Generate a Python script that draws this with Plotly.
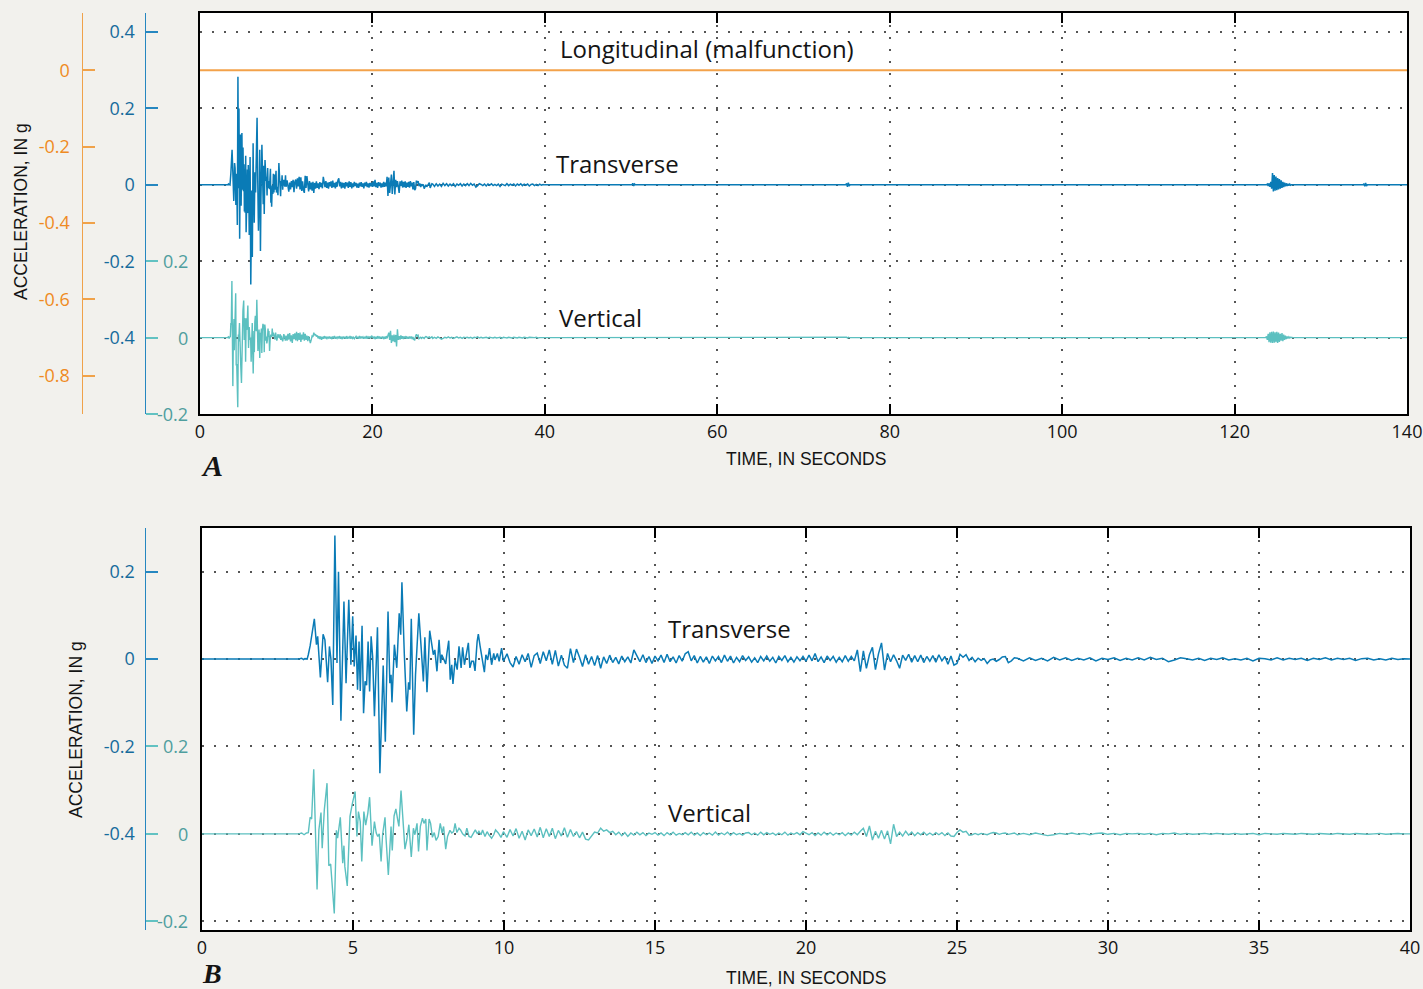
import numpy as np
import plotly.graph_objects as go

# ------------------------------------------------------------------
# Strong-motion record: time in seconds, acceleration in g
# ------------------------------------------------------------------
# Strong-motion picks, transverse component (0-10 s)
TRANS_T = [0.00, 3.20, 3.30, 3.36, 3.41, 3.48, 3.52, 3.58, 3.72, 3.79,
           3.83, 3.92, 4.01, 4.07, 4.16, 4.22, 4.27, 4.33, 4.40, 4.47,
           4.52, 4.60, 4.70, 4.77, 4.86, 4.93, 4.99, 5.04, 5.10, 5.15,
           5.20, 5.24, 5.30, 5.35, 5.40, 5.45, 5.50, 5.55, 5.60, 5.65,
           5.71, 5.81, 5.89, 6.00, 6.07, 6.16, 6.22, 6.26, 6.29, 6.37,
           6.45, 6.53, 6.58, 6.62, 6.70, 6.78, 6.84, 6.88, 6.93, 7.01,
           7.07, 7.12, 7.18, 7.25, 7.33, 7.38, 7.45, 7.54, 7.61, 7.66,
           7.71, 7.78, 7.85, 7.90, 7.94, 8.01, 8.07, 8.11, 8.17, 8.22,
           8.27, 8.31, 8.38, 8.45, 8.51, 8.58, 8.63, 8.69, 8.74, 8.82,
           8.87, 8.93, 8.99, 9.04, 9.11, 9.15, 9.21, 9.28, 9.35, 9.40,
           9.46, 9.52, 9.59, 9.66, 9.70, 9.78, 9.84, 9.92, 9.98]
TRANS_V = [0.000, 0.000, 0.002, -0.001, 0.001, 0.000, 0.010, 0.030, 0.092, 0.033,
           0.052, -0.042, 0.057, 0.044, -0.053, 0.029, 0.000, -0.105, 0.283, -0.009,
           0.200, -0.141, 0.132, -0.055, 0.136, -0.013, 0.098, -0.017, 0.054, -0.070,
           0.040, -0.073, 0.076, -0.124, -0.051, -0.060, 0.040, -0.074, 0.052, 0.006,
           -0.131, 0.073, -0.261, -0.015, -0.189, 0.109, -0.055, -0.036, -0.099, 0.033,
           -0.020, 0.105, 0.056, 0.176, 0.010, -0.120, -0.053, -0.070, 0.092, -0.173,
           -0.036, 0.025, 0.105, 0.033, -0.051, 0.050, -0.076, 0.065, 0.025, 0.010,
           0.021, -0.028, 0.044, -0.009, 0.010, -0.002, -0.011, 0.013, 0.042, -0.047,
           -0.013, -0.057, -0.002, -0.024, 0.029, -0.020, 0.027, -0.013, 0.010, 0.037,
           -0.020, -0.005, -0.005, -0.027, 0.040, 0.057, 0.029, -0.002, -0.030, 0.010,
           -0.002, 0.025, -0.013, 0.013, -0.002, 0.013, -0.005, 0.025, -0.005]

# Strong-motion picks, vertical component (0-10 s)
VERT_T = [0.00, 3.20, 3.30, 3.38, 3.46, 3.52, 3.58, 3.63, 3.70, 3.81,
          3.87, 3.94, 3.98, 4.05, 4.14, 4.20, 4.26, 4.38, 4.45, 4.49,
          4.58, 4.66, 4.70, 4.73, 4.81, 4.90, 4.98, 5.07, 5.13, 5.18,
          5.24, 5.29, 5.36, 5.42, 5.49, 5.55, 5.63, 5.71, 5.77, 5.82,
          5.87, 5.93, 5.98, 6.06, 6.09, 6.17, 6.26, 6.30, 6.36, 6.42,
          6.48, 6.52, 6.59, 6.64, 6.72, 6.78, 6.85, 6.93, 7.00, 7.05,
          7.12, 7.17, 7.23, 7.30, 7.35, 7.41, 7.45, 7.52, 7.57, 7.63,
          7.69, 7.75, 7.82, 7.89, 7.95, 8.00, 8.07, 8.13, 8.21, 8.27,
          8.33, 8.38, 8.44, 8.51, 8.56, 8.63, 8.71, 8.77, 8.84, 8.91,
          8.98, 9.05, 9.12, 9.17, 9.24, 9.29, 9.37, 9.44, 9.50, 9.59,
          9.66, 9.72, 9.81, 9.90, 9.98]
VERT_V = [0.000, 0.000, 0.002, -0.002, 0.002, 0.003, 0.038, 0.034, 0.148, -0.127,
          0.009, 0.049, -0.033, 0.055, 0.116, -0.073, -0.069, -0.182, 0.008, -0.010,
          0.038, -0.067, -0.027, -0.075, -0.119, 0.040, 0.070, 0.097, -0.006, 0.051,
          0.028, -0.063, 0.051, 0.020, 0.047, 0.084, -0.027, 0.028, 0.002, -0.006,
          0.000, -0.063, -0.002, 0.038, -0.006, -0.094, 0.017, -0.038, 0.041, 0.057,
          0.032, 0.017, 0.099, 0.036, -0.035, -0.014, 0.021, -0.053, 0.013, -0.002,
          0.024, -0.040, 0.017, 0.036, 0.024, 0.034, -0.038, 0.034, 0.024, -0.008,
          0.003, -0.015, -0.006, 0.024, 0.002, 0.017, -0.035, -0.006, 0.008, 0.002,
          0.005, 0.024, 0.003, 0.013, 0.009, 0.000, -0.005, 0.013, -0.006, -0.008,
          0.000, 0.009, 0.000, 0.006, -0.002, 0.009, -0.006, 0.005, -0.002, -0.010,
          -0.002, 0.009, 0.002, -0.008, 0.005]

# Coda sampled every 0.1 s from 10.1 s to 27.0 s
CODA_FINE_START, CODA_FINE_DT = 10.1, 0.1
CODA_TRANS_FINE = [
    0.012, -0.008, -0.018, 0.006, -0.012, 0.010, -0.006, 0.013, -0.019, 0.008,
    0.014, -0.010, 0.017, -0.004, 0.021, -0.012, 0.020, -0.016, 0.009, -0.014,
    -0.021, 0.024, -0.008, 0.023, 0.004, -0.017, 0.010, -0.012, 0.006, -0.015,
    0.008, -0.021, 0.005, -0.010, 0.009, -0.008, 0.004, -0.011, 0.007, -0.006,
    0.005, -0.009, 0.021, 0.008, -0.006, 0.010, -0.008, 0.006, -0.010, 0.007,
    -0.004, 0.009, -0.008, 0.011, -0.006, 0.005, -0.009, 0.008, -0.005, 0.012,
    0.017, -0.004, 0.008, -0.009, 0.006, -0.007, 0.005, -0.010, 0.007, -0.004,
    0.006, -0.008, 0.009, -0.005, 0.007, -0.009, 0.004, -0.006, 0.008, -0.003,
    0.005, -0.007, 0.003, -0.008, 0.006, -0.004, 0.007, -0.005, 0.004, -0.009,
    0.006, -0.003, 0.008, -0.006, 0.004, -0.007, 0.005, -0.004, 0.006, -0.005,
    0.009, -0.004, 0.013, -0.006, 0.005, -0.008, 0.007, -0.003, 0.006, -0.007,
    0.004, -0.006, 0.008, -0.005, 0.006, -0.004, 0.021, -0.029, 0.019, -0.021,
    0.010, 0.027, -0.024, 0.012, 0.037, -0.025, 0.013, -0.006, 0.010, -0.004,
    -0.021, 0.009, -0.003, 0.011, -0.007, 0.008, -0.006, 0.009, -0.008, 0.006,
    -0.005, 0.008, -0.007, 0.010, -0.004, 0.006, -0.012, 0.007, -0.014, -0.010,
    0.011, 0.004, 0.010, -0.003, 0.004, -0.006, 0.002, -0.003, 0.001, -0.010,
    -0.002, 0.000, -0.005, -0.001, 0.005, 0.006, -0.008, -0.004, 0.003, 0.002]
CODA_VERT_FINE = [
    -0.008, 0.010, -0.005, 0.012, -0.010, 0.006, -0.014, 0.009, -0.004, 0.011,
    -0.007, 0.015, -0.009, 0.012, -0.006, 0.013, -0.011, 0.008, -0.005, 0.014,
    -0.008, 0.010, -0.006, 0.005, -0.009, 0.004, -0.012, -0.014, -0.006, 0.004,
    0.002, 0.013, 0.006, 0.009, 0.003, 0.006, -0.002, 0.004, -0.004, 0.003,
    -0.006, 0.002, -0.003, 0.004, -0.002, 0.003, -0.004, 0.002, -0.001, 0.003,
    -0.003, 0.002, -0.004, 0.003, -0.002, 0.004, -0.003, 0.001, -0.002, 0.003,
    -0.002, 0.004, -0.003, 0.002, -0.004, 0.003, -0.002, 0.002, -0.003, 0.004,
    -0.003, 0.002, -0.002, 0.004, -0.003, 0.003, -0.002, 0.001, -0.003, 0.002,
    0.003, -0.002, 0.002, -0.003, 0.004, -0.002, 0.003, -0.001, 0.002, -0.003,
    0.002, -0.002, 0.004, -0.003, 0.002, -0.001, 0.003, -0.002, 0.005, 0.002,
    -0.002, 0.003, -0.004, 0.002, -0.003, 0.004, -0.002, 0.003, -0.003, 0.002,
    -0.002, 0.003, -0.004, 0.002, -0.003, 0.004, -0.002, 0.006, 0.013, -0.006,
    0.018, -0.014, 0.006, -0.010, 0.008, -0.012, 0.007, -0.023, 0.022, -0.006,
    0.004, -0.005, 0.006, -0.003, 0.004, -0.004, 0.003, -0.002, 0.004, -0.003,
    0.002, -0.003, 0.003, -0.002, 0.003, -0.004, 0.002, -0.005, -0.006, 0.003,
    0.009, 0.004, 0.006, -0.003, -0.002, 0.001, -0.002, 0.001, 0.000, -0.002,
    0.001, 0.003, 0.002, -0.001, 0.001, 0.002, -0.001, 0.001, 0.002, -0.002]

# Late coda sampled every 0.2 s from 27.2 s to 40.0 s
CODA_COARSE_START, CODA_COARSE_DT = 27.2, 0.2
CODA_TRANS_COARSE = [
    -0.004, 0.003, -0.003, 0.002, -0.004, 0.004, -0.002, 0.003, -0.003, 0.002,
    -0.002, 0.003, -0.004, 0.002, -0.001, 0.003, -0.003, 0.002, -0.002, 0.003,
    -0.002, 0.004, -0.001, 0.002, -0.006, -0.002, 0.003, 0.001, -0.002, 0.002,
    -0.003, 0.002, -0.001, 0.003, -0.002, 0.001, -0.002, 0.002, -0.004, 0.002,
    0.001, -0.002, 0.003, -0.002, 0.002, -0.001, 0.002, -0.003, 0.002, -0.001,
    0.003, -0.002, 0.002, -0.001, 0.002, -0.003, 0.001, 0.002, -0.002, 0.001,
    -0.002, 0.002, -0.001, 0.001, 0.000]
CODA_VERT_COARSE = [
    0.001, -0.002, 0.002, -0.001, -0.004, -0.002, 0.001, -0.001, 0.002, -0.001,
    0.001, -0.002, 0.001, 0.002, -0.001, 0.001, -0.002, 0.001, 0.000, 0.001,
    -0.001, 0.001, -0.002, 0.001, 0.000, 0.002, -0.001, 0.001, -0.001, 0.000,
    0.001, -0.001, 0.001, 0.000, -0.001, 0.001, -0.001, 0.000, 0.001, -0.002,
    0.001, 0.000, -0.001, 0.001, 0.000, -0.001, 0.001, 0.000, -0.001, 0.001,
    0.000, -0.001, 0.001, 0.000, -0.001, 0.001, 0.000, -0.001, 0.000, 0.001,
    -0.001, 0.000, 0.001, 0.000, 0.000]

# Remainder of the 140-s record (aftershock near 125 s)
LATE_T = [40.0, 50.1, 50.2, 50.3, 50.4, 50.5,
          74.9, 75.0, 75.1, 75.2, 75.3, 75.4,
          123.6, 123.7, 123.8, 123.9, 124.0, 124.1, 124.2, 124.3, 124.4, 124.5, 124.6,
          124.7, 124.8, 124.9, 125.0, 125.1, 125.2, 125.3, 125.4, 125.5, 125.6,
          125.7, 125.8, 125.9, 126.0, 126.1, 126.2, 126.3, 126.4, 126.5, 126.6,
          126.8, 134.9, 135.0, 135.1, 135.2, 135.3, 135.4, 140.0]
LATE_TRANS = [0.000, 0.000, 0.004, -0.003, 0.002, 0.000,
              0.000, 0.004, -0.005, 0.006, -0.003, 0.000,
              0.000, 0.000, 0.002, -0.003, 0.004, -0.005, 0.008, -0.010, 0.031, -0.017, 0.026,
              -0.015, 0.022, -0.014, 0.018, -0.012, 0.015, -0.010, 0.012, -0.008, 0.008,
              -0.006, 0.006, -0.004, 0.004, -0.003, 0.003, -0.002, 0.002, -0.001, 0.000,
              0.000, 0.000, 0.003, -0.004, 0.005, -0.003, 0.000, 0.000]
LATE_VERT = [0.000, 0.000, 0.000, 0.000, 0.000, 0.000,
             0.000, 0.001, -0.001, 0.001, 0.000, 0.000,
             0.000, 0.003, -0.006, 0.010, -0.012, 0.014, -0.013, 0.015, -0.014, 0.016, -0.013,
             0.014, -0.012, 0.015, -0.014, 0.013, -0.011, 0.010, -0.008, 0.012, -0.009,
             0.008, -0.006, 0.005, -0.004, 0.003, -0.002, 0.002, -0.001, 0.001, 0.000,
             0.000, 0.000, 0.000, 0.000, 0.000, 0.000, 0.000, 0.000]

# Longitudinal channel (malfunction: flat record)
LONG_T = [0.0, 140.0]
LONG_V = [0.0, 0.0]

# Tick values and labels
A_XTICKS = [0, 20, 40, 60, 80, 100, 120, 140]
B_XTICKS = [0, 5, 10, 15, 20, 25, 30, 35, 40]
A_TRANS_TICKS = [0.4, 0.2, 0.0, -0.2, -0.4]
A_TRANS_LABELS = ["0.4", "0.2", "0", "-0.2", "-0.4"]
B_TRANS_TICKS = [0.2, 0.0, -0.2, -0.4]
B_TRANS_LABELS = ["0.2", "0", "-0.2", "-0.4"]
VERT_TICKS = [0.2, 0.0, -0.2]
VERT_LABELS = ["0.2", "0", "-0.2"]
LONG_TICKS = [0.0, -0.2, -0.4, -0.6, -0.8]
LONG_LABELS = ["0", "-0.2", "-0.4", "-0.6", "-0.8"]


def sampled(start, dt, values):
    return list(np.round(start + dt * np.arange(len(values)), 3))


fine_t_tr = sampled(CODA_FINE_START, CODA_FINE_DT, CODA_TRANS_FINE)
coarse_t_tr = sampled(CODA_COARSE_START, CODA_COARSE_DT, CODA_TRANS_COARSE)
fine_t_vt = sampled(CODA_FINE_START, CODA_FINE_DT, CODA_VERT_FINE)
coarse_t_vt = sampled(CODA_COARSE_START, CODA_COARSE_DT, CODA_VERT_COARSE)

trans40_t = TRANS_T + fine_t_tr + coarse_t_tr
trans40_v = TRANS_V + CODA_TRANS_FINE + CODA_TRANS_COARSE
vert40_t = VERT_T + fine_t_vt + coarse_t_vt
vert40_v = VERT_V + CODA_VERT_FINE + CODA_VERT_COARSE

trans140_t = trans40_t + LATE_T
trans140_v = trans40_v + LATE_TRANS
vert140_t = vert40_t + LATE_T
vert140_v = vert40_v + LATE_VERT

# ------------------------------------------------------------------
# Page geometry (pixels)
# ------------------------------------------------------------------
W, H = 1423, 989
A_LEFT, A_RIGHT, A_TOP, A_BOTTOM = 200, 1407, 13, 414
B_LEFT, B_RIGHT, B_TOP, B_BOTTOM = 202, 1410, 528, 930
BLUE_AXIS_X = 144.5
ORANGE_AXIS_X = 81.5
TEAL_LABEL_RIGHT = 190


def xdom(a, b):
    return [a / W, b / W]


def ydom(top, bottom):
    return [1 - bottom / H, 1 - top / H]


def px(x):
    return x / W


def py(y):
    return 1 - y / H


A_RANGE = [-0.6, 0.45]          # transverse scale, panel A
A_VRANGE = [-0.2, 0.85]         # vertical scale, panel A
A_LRANGE = [-0.9, 0.15]         # longitudinal scale, panel A
B_RANGE = [-0.62, 0.30]
B_VRANGE = [-0.22, 0.70]

BG = "#f2f1ed"
C_TRANS = "#0a7bb6"
C_VERT = "#5cc0c0"
C_LONG = "#f3a24a"
C_BLUE_TXT = "#176b9c"
C_TEAL_TXT = "#4f9e9e"
C_ORANGE_TXT = "#ef8a22"
C_BLUE_AX = "#2687c0"
C_TEAL_AX = "#62c2c2"
C_ORANGE_AX = "#f0a24a"
INK = "#141414"

SANS = "Open Sans"
GRID = dict(showgrid=True, gridcolor="#555555", gridwidth=1.5, griddash="1.5px,10.5px")
TICKFONT = dict(family=SANS, size=18, color=INK)

fig = go.Figure()

# Panel A traces
fig.add_trace(go.Scatter(x=LONG_T, y=LONG_V, xaxis="x", yaxis="y6", mode="lines",
                         line=dict(color=C_LONG, width=2), showlegend=False))
fig.add_trace(go.Scatter(x=vert140_t, y=vert140_v, xaxis="x", yaxis="y5", mode="lines",
                         line=dict(color=C_VERT, width=1.4), showlegend=False))
fig.add_trace(go.Scatter(x=trans140_t, y=trans140_v, xaxis="x", yaxis="y4", mode="lines",
                         line=dict(color=C_TRANS, width=1.5), showlegend=False))

# Panel B traces
fig.add_trace(go.Scatter(x=vert40_t, y=vert40_v, xaxis="x2", yaxis="y11", mode="lines",
                         line=dict(color=C_VERT, width=1.4), showlegend=False))
fig.add_trace(go.Scatter(x=trans40_t, y=trans40_v, xaxis="x2", yaxis="y10", mode="lines",
                         line=dict(color=C_TRANS, width=1.5), showlegend=False))


def frame_x(domain, rng, ticks, anchor):
    return dict(domain=domain, anchor=anchor, range=rng, tickvals=ticks,
                ticktext=[str(t) for t in ticks], ticks="inside", ticklen=10,
                tickwidth=1.5, tickcolor="black", showline=True, linecolor="black",
                linewidth=2, mirror="ticks", zeroline=False, tickfont=TICKFONT,
                ticklabelstandoff=0, automargin=False, **GRID)


def frame_y(domain, rng, grid_vals, anchor):
    return dict(domain=domain, anchor=anchor, range=rng, tickvals=grid_vals, ticks="",
                showticklabels=False, showline=True, linecolor="black", linewidth=2,
                mirror=True, zeroline=False, automargin=False, **GRID)


def edge_ticks(over, anchor, side, rng, vals, color, length):
    return dict(overlaying=over, anchor=anchor, side=side, range=rng, tickvals=vals,
                ticks="inside", ticklen=length, tickwidth=1.5, tickcolor=color,
                showticklabels=False, showgrid=False, zeroline=False, showline=False,
                automargin=False)


def label_axis(over, xpos, side, rng, vals, labels, color, txt, line, ticks, standoff,
               show_labels=True):
    d = dict(overlaying=over, anchor="free", position=xpos, side=side, range=rng,
             tickvals=vals, ticktext=labels, ticks=ticks, ticklen=12, tickwidth=1.5,
             tickcolor=color, showgrid=False, zeroline=False, automargin=False,
             ticklabelstandoff=standoff, showticklabels=show_labels,
             tickfont=dict(family=SANS, size=18, color=txt))
    if line:
        d.update(showline=True, linecolor=color, linewidth=1.3)
    else:
        d.update(showline=False)
    return d


fig.update_layout(
    width=W, height=H, autosize=False,
    margin=dict(l=0, r=0, t=0, b=0, autoexpand=False),
    paper_bgcolor=BG, plot_bgcolor="white",
    xaxis=frame_x(xdom(A_LEFT, A_RIGHT), [0, 140], A_XTICKS, "y"),
    yaxis=frame_y(ydom(A_TOP, A_BOTTOM), A_RANGE, A_TRANS_TICKS, "x"),
    yaxis2=edge_ticks("y", "x", "right", A_RANGE, [-0.2, -0.4], "black", 10),
    yaxis3=edge_ticks("y", "x", "left", A_VRANGE, [0.2], C_TEAL_AX, 12),
    yaxis4=label_axis("y", px(BLUE_AXIS_X), "left", A_RANGE, A_TRANS_TICKS,
                      A_TRANS_LABELS, C_BLUE_AX, C_BLUE_TXT, True, "inside", 6),
    yaxis5=label_axis("y", px(BLUE_AXIS_X), "right", A_VRANGE, VERT_TICKS,
                      VERT_LABELS, C_TEAL_AX, C_TEAL_TXT, False, "outside", 4, False),
    yaxis6=label_axis("y", px(ORANGE_AXIS_X), "left", A_LRANGE, LONG_TICKS,
                      LONG_LABELS, C_ORANGE_AX, C_ORANGE_TXT, True, "inside", 8),
    xaxis2=frame_x(xdom(B_LEFT, B_RIGHT), [0, 40], B_XTICKS, "y7"),
    yaxis7=frame_y(ydom(B_TOP, B_BOTTOM), B_RANGE, [0.2, 0.0, -0.2, -0.4, -0.6], "x2"),
    yaxis8=edge_ticks("y7", "x2", "right", B_RANGE, [-0.2, -0.4], "black", 10),
    yaxis9=edge_ticks("y7", "x2", "left", B_VRANGE, [0.2, -0.2], C_TEAL_AX, 12),
    yaxis10=label_axis("y7", px(BLUE_AXIS_X), "left", B_RANGE, B_TRANS_TICKS,
                       B_TRANS_LABELS, C_BLUE_AX, C_BLUE_TXT, True, "inside", 6),
    yaxis11=label_axis("y7", px(BLUE_AXIS_X), "right", B_VRANGE, VERT_TICKS,
                       VERT_LABELS, C_TEAL_AX, C_TEAL_TXT, False, "outside", 4, False),
)

# Vertical-channel tick labels, right-aligned against the panel frame
for yref in ("y5", "y11"):
    for val, lab in zip(VERT_TICKS, VERT_LABELS):
        fig.add_annotation(text=lab, xref="paper", yref=yref, x=px(TEAL_LABEL_RIGHT),
                           y=val, showarrow=False, xanchor="right", yanchor="middle",
                           font=dict(family=SANS, size=18, color=C_TEAL_TXT))

# Channel labels inside the panels
CHANNEL_FONT = dict(family=SANS, size=24, color=INK)
channel_notes = [
    ("Longitudinal (malfunction)", "x", "y", 58.8, 0.356),
    ("Transverse", "x", "y", 48.4, 0.055),
    ("Vertical", "x", "y", 46.4, -0.348),
    ("Transverse", "x2", "y7", 17.48, 0.069),
    ("Vertical", "x2", "y7", 16.82, -0.350),
]
for text, xr, yr, xv, yv in channel_notes:
    fig.add_annotation(text=text, xref=xr, yref=yr, x=xv, y=yv, showarrow=False,
                       xanchor="center", yanchor="middle", font=CHANNEL_FONT)

# Axis titles and panel letters
TITLE_FONT = dict(family="Liberation Sans", size=17.5, color=INK)
for yy in (459, 978):
    fig.add_annotation(text="TIME, IN SECONDS", xref="paper", yref="paper",
                       x=px(806), y=py(yy), showarrow=False, xanchor="center",
                       yanchor="middle", font=TITLE_FONT)
for xx, yy in ((21, 212), (76, 730)):
    fig.add_annotation(text="ACCELERATION, IN g", xref="paper", yref="paper",
                       x=px(xx), y=py(yy), showarrow=False, textangle=-90,
                       xanchor="center", yanchor="middle", font=TITLE_FONT)
for letter, xx, yy, size in (("A", 212, 466, 30), ("B", 212, 973, 28)):
    fig.add_annotation(text=f"<b><i>{letter}</i></b>", xref="paper", yref="paper",
                       x=px(xx), y=py(yy), showarrow=False, xanchor="center",
                       yanchor="middle",
                       font=dict(family="Liberation Serif", size=size, color=INK))

fig.write_html("out.html")
